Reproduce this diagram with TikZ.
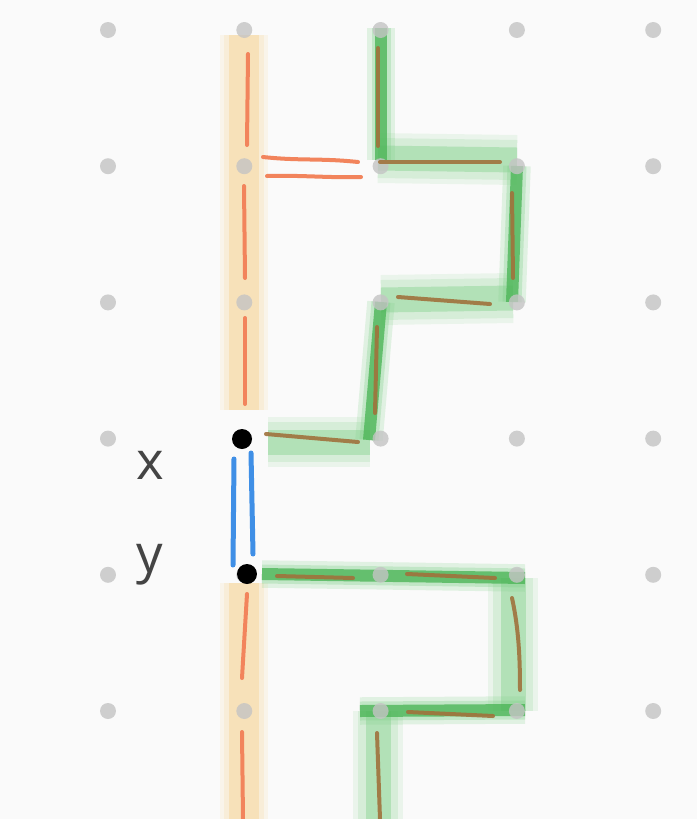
\documentclass[tikz,border=0pt]{standalone}
\usepackage{fontspec}
\newfontfamily\labelfont{Open Sans}
\definecolor{paper}{HTML}{FAFAFA}
\definecolor{gridgray}{HTML}{C4C4C4}
\definecolor{sand}{HTML}{F7D494}
\definecolor{coral}{HTML}{F2845C}
\definecolor{leaf}{HTML}{7CCF86}
\definecolor{moss}{HTML}{4DB658}
\definecolor{bark}{HTML}{A0723C}
\definecolor{sky}{HTML}{3F8FE6}
\definecolor{ink}{HTML}{444444}
\begin{document}
\begin{tikzpicture}[
    x=0.02cm, y=-0.02cm,
    dot_style/.style={circle, fill=gridgray, opacity=0.8, minimum size=0.32cm, inner sep=0pt},
    end_style/.style={circle, fill=black, minimum size=0.4cm, inner sep=0pt},
    sand_style/.style={draw=sand, line width=0.6cm, draw opacity=0.45,
        preaction={draw=sand, line width=0.95cm, draw opacity=0.15},
        preaction={draw=sand, line width=0.8cm, draw opacity=0.2}},
    band_style/.style={draw=leaf, line width=0.5cm, draw opacity=0.4, line join=miter,
        preaction={draw=leaf, line width=1.0cm, draw opacity=0.12, line join=miter},
        preaction={draw=leaf, line width=0.8cm, draw opacity=0.18, line join=miter}},
    stroke_style/.style={draw=moss, line width=0.24cm, draw opacity=0.8, line join=round,
        preaction={draw=leaf, line width=0.55cm, draw opacity=0.2, line join=round},
        preaction={draw=leaf, line width=0.38cm, draw opacity=0.3, line join=round}},
    pen_style/.style={draw=coral, line width=0.08cm, line cap=round},
    dash_style/.style={draw=bark, line width=0.08cm, line cap=round, draw opacity=0.9},
    blue_style/.style={draw=sky, line width=0.1cm, line cap=round},
    label_style/.style={text=ink, font=\labelfont\fontsize{30}{30}\selectfont}
]
% paper
\fill[paper] (0,0) rectangle (697,819);
\useasboundingbox (0,0) rectangle (697,819);
% yellow bands
\draw[sand_style] (244,35) -- (244,410);
\draw[sand_style] (244,583) -- (244,819);
% green bands
\draw[band_style] (378,158) -- (517,160);
\draw[band_style] (381,300) -- (513,298);
\draw[band_style] (268,442) -- (370,442);
\draw[band_style] (513,578) -- (513,711);
\draw[band_style] (378,711) -- (378,819);
\draw[stroke_style] (381,28) -- (381,160);
\draw[stroke_style] (517,166) -- (512,302);
\draw[stroke_style] (381,302) -- (369,440);
\draw[stroke_style] (262,574) -- (525,578);
\draw[stroke_style] (360,711) -- (525,710);
% grid
\foreach \i in {0,...,4} {
    \foreach \j in {0,...,5} {
        \node[dot_style] (g\i\j) at ({108+136.3*\i},{30+136.2*\j}) {};
    }
}
% orange strokes
\draw[pen_style] (248,54) -- (247,145);
\draw[pen_style] (244,186) -- (245,278);
\draw[pen_style] (245,318) -- (245,404);
\draw[pen_style] (247,594) -- (242,678);
\draw[pen_style] (242,732) -- (243,819);
\draw[pen_style] (263,157) .. controls (300,161) and (320,158) .. (358,162);
\draw[pen_style] (267,176) .. controls (300,175) and (330,178) .. (361,177);
% brown strokes
\draw[dash_style] (378,48) -- (378,146);
\draw[dash_style] (380,162) -- (500,162);
\draw[dash_style] (512,193) -- (513,278);
\draw[dash_style] (398,297) -- (490,304);
\draw[dash_style] (377,327) -- (375,413);
\draw[dash_style] (266,434) -- (358,442);
\draw[dash_style] (277,576) -- (353,578);
\draw[dash_style] (407,574) -- (495,578);
\draw[dash_style] (512,598) .. controls (519,630) and (520,660) .. (520,690);
\draw[dash_style] (408,712) -- (493,716);
\draw[dash_style] (377,733) -- (380,819);
% x and y
\draw[blue_style] (234,459) -- (233,565);
\draw[blue_style] (251,453) -- (253,554);
\node[end_style] (x_end) at (242,439) {};
\node[end_style] (y_end) at (247,574) {};
\node[label_style] (x_label) at (150,465) {x};
\node[label_style] (y_label) at (150,565) {y};
\end{tikzpicture}
\end{document}
